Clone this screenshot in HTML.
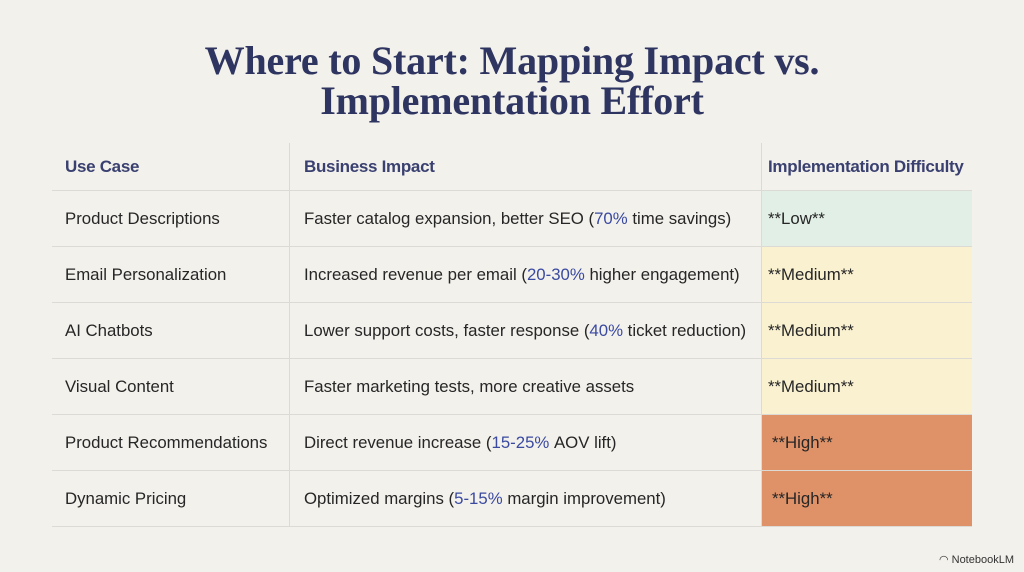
<!DOCTYPE html>
<html><head><meta charset="utf-8"><style>
body{margin:0;width:1024px;height:572px;background:#f3f1ec;font-family:"Liberation Sans",sans-serif;position:relative;overflow:hidden}
h1{position:absolute;top:41px;left:0;width:1024px;margin:0;text-align:center;font-family:"Liberation Serif",serif;font-weight:bold;font-size:40px;line-height:40px;color:#2e3560;letter-spacing:-0.2px}
.t{position:absolute;left:52px;top:143px;width:920px}
.r{position:absolute;left:0;width:920px;height:56px;border-bottom:1px solid #dcdad5;box-sizing:border-box}
.c{position:absolute;top:0;height:100%;display:flex;align-items:center;font-size:16.8px;color:#262626;box-sizing:border-box;white-space:nowrap}
.c1{left:0;width:237px;padding-left:13px}
.c2{left:237px;width:472px;padding-left:14px;border-left:1px solid #dcdad5}
.c3{left:709px;width:211px;padding-left:6px;border-left:1px solid #dcdad5}
.h .c{color:#3a4170;font-size:17px;font-weight:bold;letter-spacing:-0.3px}
.n{color:#3a4aa0}
.lo{background:#e2efe6}.me{background:#f9f1d0}.hi{background:#df9268}
.brand{position:absolute;right:10px;bottom:6px;font-size:11px;color:#333}
</style></head><body>
<h1>Where to Start: Mapping Impact vs.<br>Implementation Effort</h1>
<div class="t">
<div class="r h" style="top:0;height:48px"><div class="c c1">Use Case</div><div class="c c2">Business Impact</div><div class="c c3">Implementation Difficulty</div></div>
<div class="r" style="top:48px"><div class="c c1">Product Descriptions</div><div class="c c2">Faster catalog expansion, better SEO (<span class="n">70%</span>&nbsp;time savings)</div><div class="c c3 lo">**Low**</div></div>
<div class="r" style="top:104px"><div class="c c1">Email Personalization</div><div class="c c2">Increased revenue per email (<span class="n">20-30%</span>&nbsp;higher engagement)</div><div class="c c3 me">**Medium**</div></div>
<div class="r" style="top:160px"><div class="c c1">AI Chatbots</div><div class="c c2">Lower support costs, faster response (<span class="n">40%</span>&nbsp;ticket reduction)</div><div class="c c3 me">**Medium**</div></div>
<div class="r" style="top:216px"><div class="c c1">Visual Content</div><div class="c c2">Faster marketing tests, more creative assets</div><div class="c c3 me">**Medium**</div></div>
<div class="r" style="top:272px"><div class="c c1">Product Recommendations</div><div class="c c2">Direct revenue increase (<span class="n">15-25%</span>&nbsp;AOV lift)</div><div class="c c3 hi" style="padding-left:10px">**High**</div></div>
<div class="r" style="top:328px"><div class="c c1">Dynamic Pricing</div><div class="c c2">Optimized margins (<span class="n">5-15%</span>&nbsp;margin improvement)</div><div class="c c3 hi" style="padding-left:10px">**High**</div></div>
</div>
<div class="brand">◠ NotebookLM</div>
</body></html>
